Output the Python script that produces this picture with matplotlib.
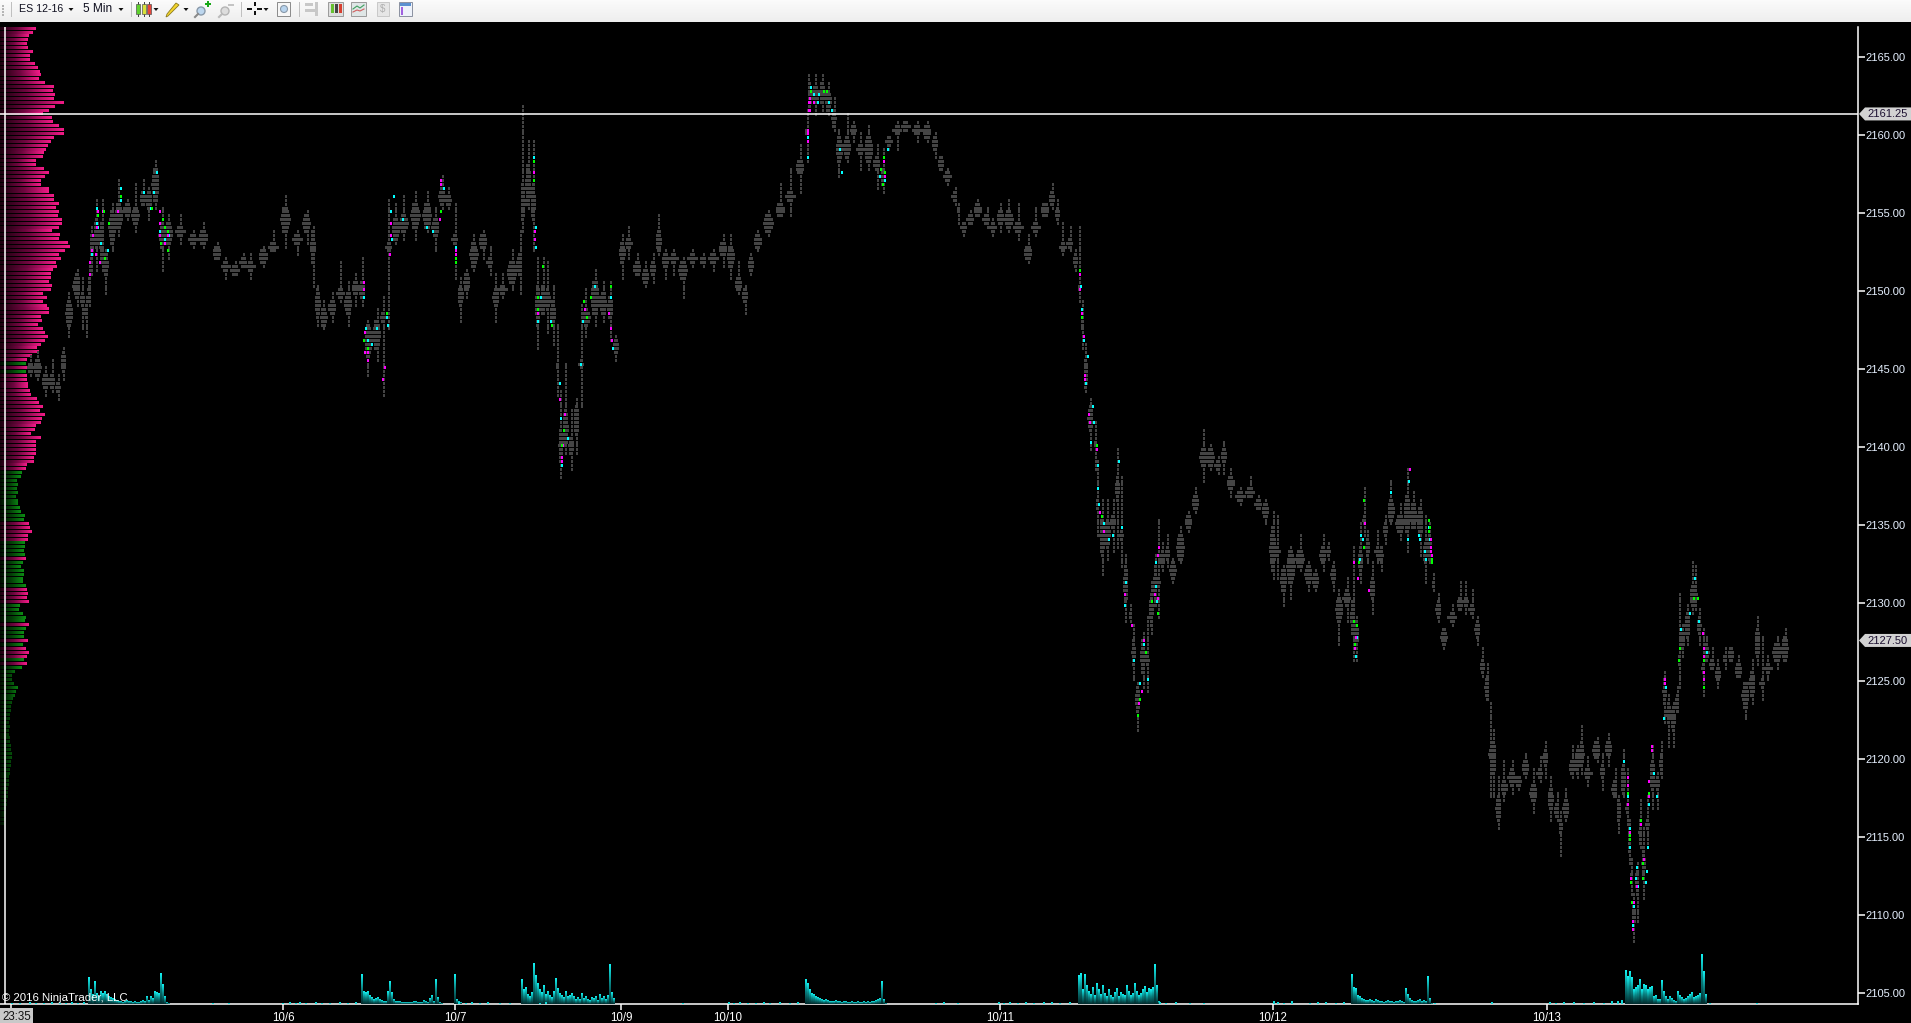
import numpy as np
import matplotlib
matplotlib.use('Agg')
import matplotlib.pyplot as plt
from matplotlib.colors import LinearSegmentedColormap
from matplotlib.patches import Polygon, Rectangle, Circle

plt.rcParams['font.family'] = ['Liberation Sans', 'DejaVu Sans']

# price columns: x is bar position, wick low/high, body low/high
bar_x = [30,37,45,52,58,63,68,77,82,86,89,91,96,102,105,112,118,127,135,143,
         148,155,162,168,180,193,203,217,225,235,243,250,263,273,285,297,307,313,317,323,
         332,340,348,355,362,367,377,383,388,395,403,415,427,435,442,448,455,460,466,473,
         483,490,495,502,512,520,522,528,533,537,543,547,553,557,560,565,571,576,581,585,
         595,603,610,615,622,628,637,645,653,658,665,673,683,692,703,713,723,730,738,745,
         750,757,768,780,790,800,807,808,815,822,828,834,838,847,853,860,868,877,883,888,
         897,905,917,927,935,940,947,955,958,963,970,977,987,992,1000,1008,1018,1028,1035,1045,
         1052,1057,1062,1070,1075,1079,1082,1085,1090,1095,1097,1102,1107,1113,1117,1121,1125,1130,1133,1137,
         1143,1147,1151,1155,1158,1162,1167,1172,1180,1188,1195,1203,1210,1218,1223,1230,1240,1250,1258,1265,
         1273,1277,1283,1290,1300,1308,1315,1323,1328,1333,1338,1347,1353,1356,1360,1364,1367,1372,1377,1381,
         1385,1390,1400,1407,1413,1420,1425,1429,1433,1438,1443,1452,1460,1465,1472,1477,1482,1487,1490,1493,
         1498,1503,1512,1518,1525,1533,1540,1545,1550,1557,1560,1565,1572,1577,1581,1587,1597,1602,1608,1615,
         1618,1623,1627,1629,1631,1633,1637,1640,1643,1647,1652,1657,1661,1664,1668,1673,1677,1679,1682,1687,
         1692,1695,1699,1703,1706,1712,1717,1725,1730,1738,1745,1752,1757,1762,1767,1777,1785]
bar_low = [2144.5,2144.25,2143.25,2143.5,2143,2144.25,2147,2149,2147.5,2147,2149,2151,2151.25,2151.25,2149.75,2152.5,2153.5,2154.5,2153.75,2155.5,
           2154.5,2155.25,2151.25,2152,2153,2152.75,2152.75,2152,2150.75,2151,2151.5,2150.75,2151.5,2152.5,2152.75,2152.25,2153,2150.25,2147.75,2147.5,
           2148,2149.25,2147.75,2149,2149,2144.5,2145.5,2143.25,2147.5,2153,2153.25,2153.25,2153.75,2152.5,2155.25,2155.25,2150.75,2148,2149.5,2151.25,
           2152,2151,2148,2149.5,2150,2149.75,2153.75,2155.25,2152.5,2146.25,2148.5,2147.25,2146.5,2143.25,2138,2139.5,2138.5,2139.5,2142.5,2147,
           2147.75,2148,2146.75,2145.5,2150.75,2152,2151,2150.25,2150.5,2152.25,2150.75,2151,2149.5,2151.5,2151.5,2151.25,2151.5,2150.75,2149.75,2148.5,
           2151,2152.5,2153.5,2154.75,2154.75,2156.25,2158.25,2161.5,2161.25,2161.5,2161.25,2160.25,2157.25,2158.25,2159.5,2157.75,2157.75,2156.5,2156.25,2159,
           2159,2160.25,2159.5,2159.5,2158.5,2157.75,2156.75,2155.5,2154.25,2153.5,2154.25,2154.75,2154,2153.5,2153.75,2153.75,2153.25,2151.75,2153.5,2154.75,
           2155.25,2154.25,2152.25,2152.5,2151.25,2149.25,2146.25,2143.5,2139.75,2138.5,2134.25,2131.75,2132.75,2133.25,2133.5,2132.25,2128.75,2128.75,2125,2121.75,
           2124.5,2124.25,2128,2129.75,2129,2132,2132.25,2131.25,2132.5,2134.5,2135.75,2137.75,2138.5,2138.25,2138.25,2136.75,2136.25,2136.75,2136,2135,
           2131.5,2131.5,2129.75,2130.25,2132,2130.75,2130.75,2132,2132.75,2130.75,2127.25,2128.75,2126.25,2126.25,2131.25,2134.25,2132.5,2129.25,2132.5,2132,
           2133.75,2135,2134,2133.25,2134.75,2133,2131.25,2132.5,2130.75,2128.75,2127,2128.5,2129.5,2129.25,2129,2127.25,2125.25,2123.75,2117.5,2117.5,
           2115.5,2117.25,2117.75,2118,2118.75,2116.5,2118.5,2118.75,2116,2116,2113.75,2116,2118.75,2118.75,2119,2118.25,2119.75,2118,2119.5,2117.5,
           2115.25,2117.5,2115.75,2113.25,2111.25,2108.25,2109.5,2114.25,2111,2114.25,2116.75,2116.75,2118.75,2122.25,2120.75,2120.75,2123,2124.5,2126.5,2127.25,
           2129.25,2129.5,2127.25,2124,2126.25,2125.75,2124.5,2125.75,2126.25,2125.25,2122.5,2123.5,2126,2123.75,2125,2125.75,2126.25]
bar_high = [2145.75,2146,2145,2145.5,2144.5,2146.25,2149.75,2151.25,2150.75,2149.5,2151.75,2154,2155.75,2155.75,2152.5,2155.5,2157,2155.75,2156.75,2157,
            2156.5,2158.25,2155.25,2154.75,2154.75,2153.75,2154.25,2153,2152,2151.75,2152.25,2152.25,2152.75,2153.75,2156,2153.75,2155,2154,2150.25,2149.25,
            2149.75,2151.75,2150.5,2151,2152,2148,2148.75,2149.5,2155.75,2155.5,2156,2156.25,2156.25,2155.25,2157.25,2156.5,2155.5,2150.75,2151.25,2153.5,
            2153.75,2152.75,2151,2151,2152.5,2153.75,2161.75,2159.5,2159.5,2152,2152,2151.75,2150.25,2147.75,2143.5,2145.25,2142.25,2143,2149,2150,
            2151.25,2150.5,2150.5,2147,2153.5,2154,2152.25,2151.75,2152.25,2154.75,2152.5,2152.5,2152,2152.5,2152.25,2152.5,2153.5,2153.5,2151.75,2150.25,
            2152.25,2153.75,2155,2156.75,2157.75,2159.25,2161.5,2163.75,2163.75,2163.75,2163.25,2162.25,2160.25,2161.25,2160.75,2160,2160.5,2159.25,2159,2159.75,
            2160.75,2160.75,2160.75,2160.75,2160,2158.5,2157.75,2156.5,2155.5,2154.25,2155,2155.75,2155.25,2154.5,2155.5,2155.75,2155.5,2153.5,2155.25,2155.5,
            2156.75,2155.75,2154.25,2154,2152.5,2154,2149.25,2146.5,2143,2141.5,2139,2136.5,2136.5,2136.5,2139.75,2138,2133,2129.75,2128.5,2124.75,
            2128,2129,2131.25,2133,2135.25,2133.75,2134.25,2132.75,2134.75,2135.75,2137.25,2141,2140,2139.25,2140.25,2138.5,2137.25,2138,2136.75,2136.5,
            2135.75,2135.5,2132.25,2133.5,2134.25,2132.5,2132,2134.25,2133.75,2132.5,2130.75,2131.5,2133.5,2129,2135,2137.25,2134.5,2132.5,2134.5,2133.5,
            2135.5,2137.75,2136.25,2138.5,2137,2136.5,2135.5,2135,2131.75,2130.5,2128.25,2129.75,2131.25,2131.25,2130.75,2129,2127,2126,2123.5,2121.75,
            2118.75,2119.75,2119.75,2118.75,2120.25,2119.25,2120,2121,2118.75,2117.75,2116.5,2118,2120.75,2120.75,2122,2120,2121.25,2120.25,2121.5,2119.25,
            2117.5,2120.5,2119.25,2116,2113.5,2111.25,2113.25,2117.25,2115.5,2117.5,2120.75,2119,2121,2125.5,2124,2123.5,2124.5,2130.5,2128.5,2129.75,
            2132.5,2132.25,2129.5,2128.25,2127.75,2127,2126.25,2127,2127,2126.5,2124.75,2126.25,2129,2127.75,2126.5,2127.75,2128.25]
body_low = [2144.75,2144.5,2143.75,2143.75,2143.5,2144.75,2147.75,2149.5,2149,2148.25,2149.25,2152,2152.75,2151.75,2151,2153,2154,2154.75,2154.25,2155.5,
            2155.25,2155.75,2152.75,2153,2153.5,2153,2153,2152,2151.25,2151,2151.5,2151.25,2151.75,2152.5,2153.75,2153,2153.75,2151.75,2148.25,2147.75,
            2148.5,2149.5,2148.5,2149.75,2149.5,2145.75,2146.25,2148,2152.5,2153.25,2153.75,2154,2154,2153.5,2155.5,2155.5,2153,2149,2150,2151.5,
            2152.75,2151.5,2149,2149.75,2150.5,2151,2154.5,2155.5,2154.5,2147.75,2148.5,2148.75,2147.75,2145,2139,2140,2139.5,2140.75,2145,2147.75,
            2148.5,2148.5,2148.25,2146,2151.75,2152.75,2151,2150.5,2151,2152.5,2151.5,2151.75,2150.75,2151.75,2151.75,2151.75,2152.25,2151.5,2150,2149.25,
            2151.25,2152.75,2153.75,2154.75,2155.75,2157.5,2160,2161.5,2162,2162,2161.5,2160.5,2158.25,2158.5,2160,2158.75,2158.25,2157.75,2156.75,2159.25,
            2160,2160.25,2160,2159.75,2159,2157.75,2157,2155.75,2155,2153.75,2154.25,2154.75,2154.25,2153.75,2154.25,2154,2153.75,2152,2153.75,2154.75,
            2155.5,2154.5,2152.5,2152.75,2151.5,2150,2147.5,2143.75,2141,2140,2136,2133,2133.5,2134.75,2136.5,2134,2130,2129,2126,2123,
            2125.5,2126,2128.5,2129.75,2131,2132.25,2132.75,2131.5,2132.75,2134.75,2136,2138.75,2138.75,2138.5,2139,2137.25,2136.5,2136.75,2136,2135.5,
            2132,2133,2130.75,2131.25,2132.25,2131.25,2131,2132.5,2133,2131.25,2128.75,2129.75,2128,2127,2131.75,2135,2133,2130.25,2133,2132.5,
            2134.25,2135.25,2134.5,2134.5,2134.75,2134.25,2132.5,2132.75,2131,2129,2127.25,2128.75,2129.5,2129.75,2129.25,2127.75,2125.5,2123.75,2120,2119,
            2116,2117.75,2118.25,2118.25,2119,2117.25,2118.75,2119.5,2116.75,2116.25,2115.25,2116.25,2119,2119,2119.5,2118.75,2120,2118.75,2120.25,2117.5,
            2116,2117.75,2116.5,2114,2112,2109,2111.25,2114.5,2112.25,2115.5,2118,2118,2119,2123.5,2122.25,2121.75,2123,2126,2127,2127.75,
            2129.75,2129.75,2128,2125.5,2126.25,2125.75,2125,2126.25,2126.25,2125.25,2123.25,2124,2126.5,2124.5,2125.5,2126.25,2126.25]
body_high = [2145.25,2145.5,2144.5,2144.5,2144,2146,2149.25,2151,2149.75,2149,2150.75,2153.5,2154.5,2154.25,2152.25,2155,2155.5,2155.5,2155.25,2156.25,
             2156.25,2157.75,2154.25,2154.25,2154,2153.5,2153.75,2152.75,2151.75,2151.5,2152,2151.75,2152.5,2153,2155.25,2153.5,2154.75,2153.75,2150,2148.75,
             2149.25,2150,2149.75,2150.5,2150.5,2147.75,2148,2148.5,2153,2154.5,2154.75,2155.5,2155.5,2154.5,2156.5,2156,2153.5,2150.25,2151,2153,
             2153.5,2152,2150,2150.25,2151.75,2152.25,2156.75,2158,2156.75,2150.25,2150.25,2150,2149.25,2145.25,2141,2142.25,2140.5,2142.5,2145.5,2148.75,
             2150.5,2149.75,2149.5,2146.75,2153,2153.25,2151.75,2151.25,2151.75,2153.75,2152.25,2152.25,2151.75,2152.25,2152,2152.25,2153,2152.75,2150.75,2150,
             2152,2153.5,2154.75,2155.5,2156.25,2158.25,2160.25,2163.25,2163,2163.25,2162.75,2161.5,2159.75,2159.75,2160.5,2159.25,2159.75,2158.5,2157.75,2159.75,
             2160.5,2160.75,2160.5,2160.5,2159.75,2158.5,2157.5,2156.25,2155.25,2154.25,2154.75,2155.5,2154.75,2154.25,2155,2155,2154.25,2152.75,2154.25,2155.5,
             2156.25,2155.25,2153,2153.25,2152.25,2150.25,2148.75,2145.5,2142.5,2140.25,2136.5,2135.5,2135.25,2135.5,2138,2134.5,2132.25,2129.25,2127.5,2124.5,
             2127.5,2126.5,2130.5,2132.25,2131.5,2133.25,2133.5,2132.5,2134.25,2135.5,2136.75,2139.75,2139.75,2139,2139.75,2138,2137,2137.25,2136.5,2136.25,
             2134.75,2133.5,2132,2133.25,2133.25,2132.25,2131.75,2133.5,2133.5,2132.25,2130.25,2130.75,2130,2128.75,2133.5,2135.5,2134,2131.5,2133.5,2133.5,
             2135,2136.5,2135.5,2136.75,2136.25,2136,2133.75,2134.5,2131.25,2130,2128.25,2129.25,2130.25,2130.25,2129.75,2128.75,2126.25,2125.25,2120.5,2121,
             2117.5,2118.5,2119.25,2118.75,2119.75,2118.25,2119.25,2120.5,2118,2117,2116,2117.25,2119.75,2120.5,2121,2119.25,2121,2119.5,2121,2118.5,
             2117.25,2119.5,2117,2115.5,2112.5,2110.75,2113,2116,2114.25,2116,2119.75,2118.75,2120.25,2125,2123.5,2123.25,2124,2126.5,2128.25,2129.25,
             2131,2131,2129,2126,2127.25,2126.25,2125.75,2126.5,2127,2126,2124.75,2125.5,2128.25,2125,2126,2127.25,2127.75]

# tick levels that carry an imbalance colour
cyan_x = [96,96,97,91,100,107,120,120,143,153,150,156,164,168,159,393,390,391,402,426,
          432,443,440,363,365,376,371,386,387,367,455,533,535,535,540,537,550,563,559,560,
          580,582,594,610,612,807,841,879,561,567,810,818,813,817,828,831,807,839,887,879,
          884,1080,1081,1083,1087,1085,1092,1093,1090,1097,1097,1098,1103,1108,1112,1118,1121,1125,1124,1133,
          1143,1147,1139,1155,1155,1156,1360,1359,1362,1356,1355,1407,1419,1428,1429,1425,1390,1408,1418,1424,
          1698,1680,1689,1694,1706,1665,1663,1653,1656,1648,1623,1627,1629,1629,1636,1635,1633,1632,1647,1646,1645,1637]
cyan_p = [2155.25,2154.25,2154,2152.25,2153,2152.5,2156.5,2155.75,2156.25,2156.25,2155.25,2157.5,2153.25,2153.5,2153.75,2156,2155,2153.25,2154.5,2154,
          2153.75,2156.5,2155,2149.5,2147.5,2147.5,2146.5,2148.25,2147.75,2146.75,2152.75,2158.5,2154,2152.75,2149.5,2148,2148,2141,2144,2141.75,
          2145.25,2148,2150.25,2149.5,2146.25,2158.5,2157.5,2157.25,2138.75,2140.5,2163,2162.5,2162.5,2162,2162,2161.5,2159.75,2159,2159,2157.25,
          2157,2150.25,2148.75,2146.75,2145.75,2144,2142.5,2141.5,2140.25,2138.75,2137.25,2136.25,2135,2134,2134.25,2139,2134.75,2131.25,2129.75,2126.25,
          2127.25,2125,2124.75,2132.5,2131,2130,2134.25,2132.75,2134,2127.75,2126.5,2134,2134,2134.75,2134,2132.75,2137,2137.75,2134.25,2133.25,
          2128.75,2128.25,2129.25,2131.5,2126.75,2124.5,2122.5,2119,2117.5,2117,2119.75,2117.5,2115.5,2114.25,2113,2112.25,2110.5,2109.25,2114.25,2112.75,2112,2111.75]
magenta_x = [97,96,92,91,89,89,95,102,99,117,159,159,159,164,167,390,390,363,363,440,
             440,439,364,364,367,367,384,382,389,455,533,534,534,455,559,564,562,561,561,584,
             610,611,608,807,807,808,808,537,809,809,809,813,884,883,807,807,1079,1079,1081,1083,
             1084,1084,1089,1088,1096,1099,1103,1124,1131,1143,1141,1138,1158,1157,1154,1157,1353,1357,1355,1354,
             1364,1430,1431,1409,1368,1409,1430,1430,1431,1627,1627,1627,1629,1632,1632,1633,1630,1640,1651,1651,
             1648,1648,1664,1664,1643,1702,1703,1703,1703,1703,1636]
magenta_p = [2155,2154,2153.5,2152.5,2151.75,2151,2152.25,2155,2151.75,2155,2155,2154.25,2153.5,2153,2153.5,2154.25,2153.5,2150.5,2150,2157,
             2156.75,2154.5,2147.25,2146,2146,2145.5,2145,2144.25,2152.25,2152.5,2157.5,2153.75,2153.25,2152.25,2143,2142,2140,2139.25,2139,2148.75,
             2147.5,2146.75,2148.5,2159.5,2160,2162,2161.5,2148.5,2162.25,2162,2161.5,2162,2157.25,2158.25,2160.25,2159.5,2151,2150,2148.5,2147,
             2144.5,2144.25,2141.5,2142,2139.75,2135.75,2134.5,2130.5,2128.5,2127.5,2124.25,2123.5,2133.5,2133,2130.5,2130.25,2132.5,2131.5,2127.75,2127,
             2135,2133.25,2132.75,2138.5,2130.75,2138.5,2134,2133.5,2133,2118.75,2118.25,2117,2115.25,2109.5,2109,2110.75,2112.25,2115.75,2120.75,2120.5,
             2118.5,2117.5,2125,2124.75,2113.5,2128,2127,2126.5,2125.5,2125,2111.75]
green_x = [97,103,108,104,120,151,162,164,167,160,167,363,386,367,455,440,533,533,455,537,
           537,542,551,610,583,590,586,563,561,810,823,826,883,880,884,882,1079,1081,1096,1101,
           1151,1157,1137,1139,1145,1363,1358,1353,1356,1354,1428,1431,1363,1428,1429,1431,1627,1629,1629,1630,
           1631,1640,1648,1642,1642,1678,1679,1693,1697,1703,1703]
green_p = [2154.75,2155,2154.25,2152,2156,2155.25,2154.5,2154,2153.75,2153,2152.5,2146.75,2148.5,2146.25,2152,2155,2158.25,2157,2151.75,2149.5,
           2148.75,2151.5,2147.75,2150.25,2149.25,2149.5,2148.25,2141,2140,2162.75,2162.75,2162.75,2158.5,2157.75,2157.5,2156.75,2151.25,2148.25,2140,2135.5,
           2130,2129.25,2122.75,2123.75,2126.75,2133.5,2132.5,2128.75,2128.5,2127.25,2134.5,2132.5,2136.5,2135.25,2134.75,2132.75,2117.75,2114.75,2115,2112,
           2110.75,2116,2117.75,2112.25,2113.25,2126.25,2127,2130.25,2130.25,2124.5,2126.25]

# volume profile at the left edge, top row downwards, one row per 0.25
profile_top = 2166.75
profile_len = [36,33,29,28,27,28,33,30,30,35,38,40,41,39,45,54,53,55,54,64,55,49,43,52,53,59,64,64,54,51,
               48,46,44,43,36,36,44,49,45,41,41,49,49,54,54,59,56,59,58,62,62,59,52,60,59,68,70,65,59,61,
               56,57,53,51,51,49,52,51,43,47,43,47,49,49,41,42,38,43,45,48,45,41,37,39,32,
               27,26,28,26,27,27,28,28,30,31,37,39,43,
               40,45,42,41,36,35,31,41,36,36,36,36,34,34,27,26,
               22,21,17,18,17,18,16,18,18,20,21,25,24,29,30,32,28,28,25,25,24,25,26,
               23,21,24,24,23,23,26,27,28,27,29,20,19,23,26,25,29,26,24,24,28,23,26,29,27,24,27,
               22,15,12,12,14,18,16,15,13,
               12,11,11,10,10,9,10,9,9,10,10,11,11,12,12,11,11,10,10,9,9,9,8,8,8,7,7,6,6,5,5,4]
profile_kind = ('m' * 86 + 'gmg' + 'm' * 25 + 'g' * 13 + 'm' * 5 + 'g' * 4 + 'm' + 'g' * 7 + 'm' * 4 +
                'g' * 5 + 'm' + 'g' * 3 + 'm' + 'g' + 'm' * 3 + 'g' + 'm' + 'g' * 41)

# volume panel, one list per busy session, bars two positions apart
vol_starts = [89, 362, 455, 522, 806, 1079, 1352, 1626]
vol_1 = [26,14,10,22,11,8,13,11,13,10,8,7,6,5,4,3,3,2,3,4,3,3,2,3,2,2,3,4,3,8,4,8,6,13,12,11,30,19,8,2,1]
vol_2 = [29,13,12,13,9,7,5,6,7,5,4,3,3,13,22,12,5,3,3,3,2,2,2,2,2,2,3,3,2,2,2,4,3,2,6,9,3,24,7,2,1]
vol_3 = [29,5,3,2]
vol_4 = [24,14,16,10,8,12,41,28,20,14,12,18,10,13,9,7,13,25,15,11,9,7,13,8,9,11,8,5,7,5,11,6,8,5,4,7,6,8,4,10,6,8,5,9,40,12,6]
vol_5 = [24,20,14,11,10,8,7,6,5,4,5,4,3,3,3,4,3,3,2,3,3,2,2,3,2,2,3,2,2,3,2,3,2,3,3,4,5,6,22,5,1]
vol_6 = [28,30,14,29,18,13,10,16,9,20,14,10,18,11,8,14,9,7,12,15,8,12,10,9,18,13,9,11,20,13,9,11,14,17,12,15,14,16,40,18,3]
vol_7 = [29,16,15,9,8,6,5,4,4,5,4,3,5,4,3,3,2,3,4,3,3,2,3,3,4,3,2,15,10,6,4,3,3,4,5,3,4,3,27,6,1]
vol_8 = [34,27,33,26,14,16,18,24,14,19,18,14,16,17,8,9,5,5,23,13,8,5,8,6,4,3,13,9,7,5,6,8,10,12,7,8,9,11,50,33,10]
vol_sessions = [vol_1, vol_2, vol_3, vol_4, vol_5, vol_6, vol_7, vol_8]
# the thin quiet bars between the sessions
vol_bg_x = [12,20,30,36,44,52,60,66,72,78,84,213,229,283,290,296,300,306,316,322,330,340,348,356,
            459,466,472,480,488,500,510,540,546,683,729,734,740,748,756,764,770,780,790,798,
            936,944,958,999,1004,1010,1018,1026,1034,1044,1052,1060,1070,1160,1166,1176,1190,1204,
            1274,1278,1284,1292,1310,1318,1326,1336,1344,1435,1492,1550,1556,1564,1574,1584,1594,1604,1612,1618,1622,1710,1757]
vol_bg_h = [1,1,2,1,1,2,1,1,2,1,2,1,1,1,2,1,2,1,2,1,1,2,1,2,
            2,1,2,1,2,1,1,1,2,1,2,1,2,1,1,2,1,2,1,2,
            1,2,1,2,1,2,1,2,1,2,2,1,2,2,1,2,1,1,
            3,2,1,3,1,2,2,1,2,1,2,2,1,2,2,1,2,1,3,3,4,1,1]

# axis ticks and labels
price_ticks = list(range(2105, 2170, 5))
date_pos = [283, 455, 621, 728, 1000, 1273, 1547]
date_labels = ['10/6', '10/7', '10/9', '10/10', '10/11', '10/12', '10/13']
flag_prices = [2161.25, 2127.5]
flag_labels = ['2161.25', '2127.50']
cross_x = 5
first_tick = 11

W, H = 1911, 1023
row_shift = 0.1   # the price rows sit a hair above their axis tick
row_lw = 3 * 72 / 100

fig = plt.figure(figsize=(W / 100, H / 100), dpi=100, facecolor='black')
ax = fig.add_axes([0, 1 - 1004 / H, 1858 / W, (1004 - 22) / H], facecolor='black')
ax.set_autoscale_on(False)
ax.set_xlim(0, 1858)
ymax = 2165 + 35 / 15.6
ymin = 2165 - 947 / 15.6
ax.set_ylim(ymin, ymax)

# gradient bars of the profile, short rows never reach the full colour
mag_cm = LinearSegmentedColormap.from_list('m', ['#1c000f', '#70063f', '#f01a86'])
grn_cm = LinearSegmentedColormap.from_list('g', ['#000e00', '#044208', '#0c8c14'])
ramp = np.linspace(0, 1, 32).reshape(1, -1)
for i, length in enumerate(profile_len):
    p = profile_top - 0.25 * i + row_shift
    cm = mag_cm if profile_kind[i] == 'm' else grn_cm
    ax.imshow(ramp * min(1, length / 20), cmap=cm, vmin=0, vmax=1, aspect='auto', interpolation='bilinear',
              extent=[0, length, p - 0.096, p + 0.096], zorder=2)

# grey price rows
wy, wl, wr = [], [], []
by, bl, br = [], [], []
for i, x in enumerate(bar_x):
    for p in np.arange(bar_low[i], bar_high[i] + 0.01, 0.25):
        wy.append(p + row_shift)
        wl.append(x)
        wr.append(x + 1)
    if body_high[i] > body_low[i]:
        gap_l = min(x - bar_x[i - 1], 10) if i else 6
        gap_r = min(bar_x[i + 1] - x, 10) if i < len(bar_x) - 1 else 6
        mid = (body_low[i] + body_high[i]) / 2
        half = (body_high[i] - body_low[i]) / 2
        for p in np.arange(body_low[i], body_high[i] + 0.01, 0.25):
            taper = 1 - 0.5 * abs(p - mid) / half
            by.append(p + row_shift)
            bl.append(x - gap_l * 0.5 * taper)
            br.append(x + gap_r * 0.5 * taper)
ax.hlines(wy, wl, wr, colors='#444444', linewidth=row_lw, antialiased=False, capstyle='butt', zorder=3)
ax.hlines(by, bl, br, colors='#444444', linewidth=row_lw, antialiased=False, capstyle='butt', zorder=3)

for xs, ps, c in [(cyan_x, cyan_p, '#00ffff'), (magenta_x, magenta_p, '#ff00ff'), (green_x, green_p, '#00ff00')]:
    xs = np.array(xs)
    ax.hlines(np.array(ps) + row_shift, xs, xs + 1, colors=c, linewidth=row_lw,
              antialiased=False, capstyle='butt', zorder=4)

# white cross lines and frame
top_p = ymax - 5 / 15.6
ax.vlines(cross_x, ymin, top_p, colors='white', linewidth=1.1, zorder=6)
ax.axhline(flag_prices[0] + row_shift, color='white', linewidth=1.1, zorder=6)

for s in ['top', 'left']:
    ax.spines[s].set_visible(False)
for s in ['right', 'bottom']:
    ax.spines[s].set_color('white')
    ax.spines[s].set_linewidth(1.1)
ax.spines['right'].set_bounds(ymin, top_p)
ax.spines['bottom'].set_zorder(8)

ax.yaxis.tick_right()
ax.set_yticks(price_ticks)
ax.set_yticklabels(['%.2f' % t for t in price_ticks])
ax.tick_params(axis='y', colors='white', labelcolor='#e6f0ff', labelsize=8.0, length=5, width=1.1, pad=0.5)
ax.set_xticks([first_tick] + date_pos)
ax.set_xticklabels([''] + date_labels)
ax.tick_params(axis='x', colors='white', labelcolor='white', labelsize=8.3, length=4.5, width=1.1, pad=1.5)
fig.text(2 / W, 1 - 1017 / H, '23:35', color='#111111', fontsize=8.3, va='center', ha='left',
         bbox=dict(facecolor='#c9c9c9', edgecolor='none', pad=1.8), zorder=9)

# volume panel on its own axes, one unit is one pixel high
vax = fig.add_axes([0, 1 - 1004 / H, 1858 / W, 100 / H], facecolor='none', zorder=3)
vax.set_autoscale_on(False)
vax.set_xlim(0, 1858)
vax.set_ylim(0, 100)
vax.axis('off')
vol_cm = LinearSegmentedColormap.from_list('c', ['#022c2e', '#0a8080', '#12f0f0'])
vramp = np.linspace(1, 0, 24).reshape(-1, 1)
for start, vals in zip(vol_starts, vol_sessions):
    for k, v in enumerate(vals):
        xx = start + 2 * k
        vax.imshow(vramp, cmap=vol_cm, aspect='auto', interpolation='bilinear',
                   extent=[xx - 0.7, xx + 0.7, 0, v], vmin=0, vmax=1, zorder=2)
vax.vlines(vol_bg_x, 0, vol_bg_h, colors='#12e0e0', linewidth=1.4)

fig.text(2 / W, 1 - 998 / H, '\u00a9 2016 NinjaTrader, LLC', color='white', fontsize=8.2, va='center', ha='left', zorder=10)

# price flags on the axis
for p, lab in zip(flag_prices, flag_labels):
    yd = ax.transData.transform((0, p + row_shift))[1]
    fig.add_artist(Polygon([(1859, yd), (1865, yd + 6.5), (W, yd + 6.5), (W, yd - 6.5), (1865, yd - 6.5)],
                           closed=True, facecolor='#d2d2d2', edgecolor='none', transform=None, zorder=11))
    fig.text(1867 / W, (yd - 0.5) / H, lab, color='#1c1030', fontsize=8.0, va='center', ha='left', zorder=12)

# toolbar strip in pixel coordinates
tb = fig.add_axes([0, 1 - 22 / H, 1, 22 / H], zorder=5)
tb.set_autoscale_on(False)
tb.set_xlim(0, W)
tb.set_ylim(22, 0)
tb.axis('off')
tb.imshow(np.linspace(0, 1, 22).reshape(-1, 1), cmap=LinearSegmentedColormap.from_list('t', ['#fbfbfb', '#eeeeee']),
          aspect='auto', extent=[0, W, 22, 0])


def rect(x, y, w, h, c, ec='none', lw=0.7):
    tb.add_patch(Rectangle((x, y), w, h, facecolor=c, edgecolor=ec, linewidth=lw))


def arrow(x):
    tb.add_patch(Polygon([(x - 2.5, 8), (x + 2.5, 8), (x, 11)], facecolor='#111111', edgecolor='none'))


for yy in [5, 8, 11, 14]:
    rect(2, yy, 2, 2, '#b5b5b5')
for xx in [11, 131, 241, 299]:
    rect(xx, 2, 1, 15, '#c0c0c0')
tb.text(19, 8.5, 'ES 12-16', fontsize=7.7, color='#101020', va='center', ha='left')
tb.text(83, 8.5, '5 Min', fontsize=8.6, color='#101020', va='center', ha='left')
for xx in [71, 121, 156, 186, 266]:
    arrow(xx)
# candlestick button
for xx, c in [(138, '#5fd22e'), (144, '#d8e23a'), (149, '#e8463a')]:
    rect(xx - 0.5, 1.5, 1, 15, '#444444')
    rect(xx - 2, 4, 4, 10, c, ec='#555555', lw=0.5)
# pencil
tb.add_patch(Polygon([(168, 16), (166, 17), (167, 14), (176, 3), (179, 5)], facecolor='#f4d52c', edgecolor='#8a7a20', linewidth=0.6))
# zoom in and zoom out
tb.add_patch(Circle((201, 11), 4, facecolor='#bcd6ee', edgecolor='#8a9aaa', linewidth=1))
tb.plot([198, 195], [14, 17], color='#8a8a8a', linewidth=1.5)
rect(205, 3, 6, 2, '#17a817')
rect(207, 1, 2, 6, '#17a817')
tb.add_patch(Circle((225, 11), 4, facecolor='#dddddd', edgecolor='#b5b5b5', linewidth=1))
tb.plot([222, 219], [14, 17], color='#bbbbbb', linewidth=1.5)
rect(228, 4, 6, 1.5, '#c4c4c4')
# crosshair
rect(247, 8, 5, 1.5, '#111111')
rect(257, 8, 5, 1.5, '#111111')
rect(254, 2, 1.5, 4, '#111111')
rect(254, 11, 1.5, 4, '#111111')
# search box
rect(277, 2, 13, 14, '#f7f7f7', ec='#8a8a8a')
tb.add_patch(Circle((284, 9), 3.5, facecolor='#b8d4ee', edgecolor='#8a9aaa', linewidth=0.8))
# grey strategy buttons
rect(305, 3, 8, 3, '#c8c8c8')
rect(305, 9, 10, 3, '#c8c8c8')
rect(315, 2, 3, 14, '#c8c8c8')
rect(328, 2, 15, 14, '#dedede', ec='#9a9a9a')
for xx, c in [(332, '#66c030'), (336, '#444444'), (340, '#d84030')]:
    rect(xx - 1, 4, 2.5, 9, c)
rect(351, 2, 15, 14, '#dfe6e6', ec='#9a9a9a')
tb.plot([353, 357, 360, 364], [9, 6, 8, 5], color='#40a060', linewidth=0.8)
tb.plot([353, 357, 360, 364], [12, 10, 11, 9], color='#d06060', linewidth=0.8)
rect(377, 2, 12, 14, '#e6e6e6', ec='#c8c8c8')
tb.text(383, 9, '$', fontsize=7, color='#b0b0b0', ha='center', va='center')
rect(399, 2, 13, 14, '#eef2fa', ec='#8a90a0')
rect(400, 3, 11, 3, '#5a90d0')
rect(401, 7, 2, 8, '#a060e0')

fig.savefig('out.png', dpi=100, facecolor='black')
